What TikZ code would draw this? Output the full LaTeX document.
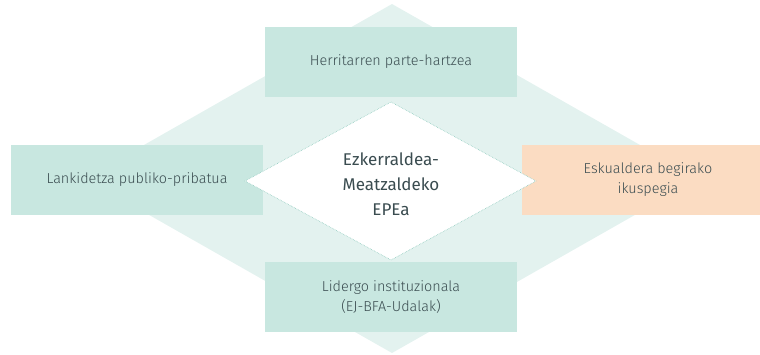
\documentclass[tikz,border=0pt]{standalone}
\usepackage{fontspec}
\setmainfont{Fira Sans Light}
\newfontfamily\centerfont{Fira Sans}
\definecolor{bigdia}{HTML}{E3F2EF}
\definecolor{boxteal}{HTML}{C8E7E0}
\definecolor{boxpeach}{HTML}{FBDCC2}
\definecolor{txt}{HTML}{3A4C50}
\definecolor{dotline}{HTML}{8CCABD}
\tikzset{
  box/.style={fill=boxteal, draw=none, minimum width=252pt, minimum height=70pt,
    inner sep=0pt, text=txt, font=\fontsize{14.4}{20}\selectfont, align=center},
  peachbox/.style={box, fill=boxpeach},
  centertext/.style={text=txt, font=\centerfont\fontsize{17}{25}\selectfont, align=center, inner sep=0pt}
}
\begin{document}
\begin{tikzpicture}[x=1pt,y=-1pt]
\useasboundingbox (0,0) rectangle (760,354);
\clip (0,0) rectangle (760,354);
% big background diamond
\fill[bigdia] (392,4) -- (699,178.5) -- (392,353) -- (85,178.5) -- cycle;
% boxes
\node[box] (top) at (391,61.5) {Herritarren parte-hartzea};
\node[box] (left) at (137,180) {Lankidetza publiko-pribatua};
\node[peachbox] (right) at (648,180) {Eskualdera begirako\\ikuspegia};
\node[box] (bottom) at (391,297) {Lidergo instituzionala\\(EJ-BFA-Udalak)};
% inner white diamond
\fill[white] (391,102) -- (536,181) -- (391,260) -- (245,181) -- cycle;
\draw[dotline, line width=0.6pt, densely dotted] (391,102) -- (536,181) -- (391,260) -- (245,181) -- cycle;
\node[centertext] (center) at (391,184) {Ezkerraldea-\\Meatzaldeko\\EPEa};
\end{tikzpicture}
\end{document}
